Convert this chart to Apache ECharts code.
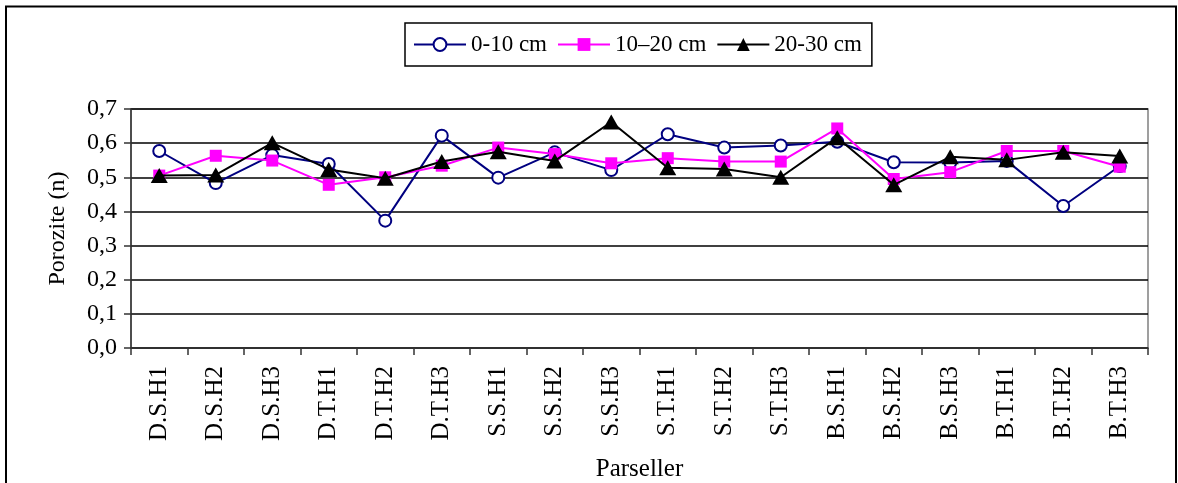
<!DOCTYPE html>
<html>
<head>
<meta charset="utf-8">
<script src="https://cdn.jsdelivr.net/npm/echarts@6/dist/echarts.min.js"></script>
<style>
  html, body { margin: 0; padding: 0; background: #fff; }
  #chart { width: 1178px; height: 483px; }
</style>
</head>
<body>
<div id="chart"></div>
<script>
// Parcel codes along the x axis
const parcels = ['D.S.H1', 'D.S.H2', 'D.S.H3', 'D.T.H1', 'D.T.H2', 'D.T.H3',
                 'S.S.H1', 'S.S.H2', 'S.S.H3', 'S.T.H1', 'S.T.H2', 'S.T.H3',
                 'B.S.H1', 'B.S.H2', 'B.S.H3', 'B.T.H1', 'B.T.H2', 'B.T.H3'];

// Porosity (n) by soil depth
const depth0to10 = [0.577, 0.483, 0.565, 0.539, 0.373, 0.622,
                    0.499, 0.573, 0.521, 0.626, 0.587, 0.593,
                    0.604, 0.544, 0.543, 0.548, 0.416, 0.533];
const depth10to20 = [0.505, 0.563, 0.549, 0.478, 0.500, 0.534,
                     0.587, 0.568, 0.541, 0.556, 0.546, 0.546,
                     0.643, 0.495, 0.515, 0.577, 0.577, 0.531];
const depth20to30 = [0.505, 0.507, 0.601, 0.523, 0.497, 0.546,
                     0.575, 0.548, 0.662, 0.528, 0.524, 0.500,
                     0.616, 0.478, 0.560, 0.551, 0.573, 0.562];

const seriesNames = ['0-10 cm', '10\u201320 cm', '20-30 cm'];
const yTicks = { min: 0, max: 0.7, step: 0.1 };

const FONT = '"Liberation Serif", "DejaVu Serif", serif';

const chart = echarts.init(document.getElementById('chart'), null, { renderer: 'canvas' });

chart.setOption({
  animation: false,
  backgroundColor: '#fff',
  textStyle: { fontFamily: FONT, color: '#000' },
  graphic: [{
    type: 'rect',
    shape: { x: 6, y: 6.5, width: 1170, height: 500 },
    style: { fill: 'none', stroke: '#000', lineWidth: 2 },
    silent: true
  }],
  legend: {
    left: 405,
    top: 23,
    padding: [10, 10, 10, 8],
    borderColor: '#000',
    borderWidth: 1.5,
    itemWidth: 52,
    itemHeight: 16,
    itemGap: 10,
    textStyle: { fontFamily: FONT, fontSize: 23, color: '#000' },
    data: seriesNames
  },
  grid: {
    left: 131,
    right: 30,
    top: 109,
    bottom: 135,
    outerBoundsMode: 'none',
    containLabel: false,
    show: true,
    borderColor: '#808080',
    borderWidth: 1.5
  },
  xAxis: {
    type: 'category',
    data: parcels,
    boundaryGap: true,
    name: 'Parseller',
    nameLocation: 'middle',
    nameGap: 109,
    nameTextStyle: { fontFamily: FONT, fontSize: 25, color: '#000' },
    axisLine: { lineStyle: { color: '#333', width: 1.5 } },
    axisTick: { show: true, length: 7, lineStyle: { color: '#333', width: 1.5 } },
    axisLabel: {
      rotate: 90,
      margin: 18,
      fontFamily: FONT,
      fontSize: 25,
      color: '#000'
    },
    splitLine: { show: false }
  },
  yAxis: {
    type: 'value',
    min: yTicks.min,
    max: yTicks.max,
    interval: yTicks.step,
    name: 'Porozite (n)',
    nameLocation: 'middle',
    nameGap: 61,
    nameTextStyle: { fontFamily: FONT, fontSize: 24, color: '#000' },
    axisLine: { show: true, lineStyle: { color: '#333', width: 1.5 } },
    axisTick: { show: true, length: 7, lineStyle: { color: '#333', width: 1.5 } },
    axisLabel: {
      margin: 14,
      fontFamily: FONT,
      fontSize: 24,
      color: '#000',
      formatter: v => v.toFixed(1).replace('.', ',')
    },
    splitLine: { show: true, lineStyle: { color: '#000', width: 1.5 } }
  },
  series: [
    {
      name: seriesNames[0],
      type: 'line',
      data: depth0to10,
      symbol: 'circle',
      symbolSize: 12,
      showAllSymbol: true,
      lineStyle: { color: '#000080', width: 2 },
      itemStyle: { color: '#fff', borderColor: '#000080', borderWidth: 2 },
      z: 3
    },
    {
      name: seriesNames[1],
      type: 'line',
      data: depth10to20,
      symbol: 'rect',
      symbolSize: 12,
      showAllSymbol: true,
      lineStyle: { color: '#ff00ff', width: 2 },
      itemStyle: { color: '#ff00ff', borderWidth: 0 },
      z: 4
    },
    {
      name: seriesNames[2],
      type: 'line',
      data: depth20to30,
      symbol: 'triangle',
      symbolSize: [17, 15],
      showAllSymbol: true,
      lineStyle: { color: '#000', width: 2 },
      itemStyle: { color: '#000', borderWidth: 0 },
      z: 5
    }
  ]
});
</script>
</body>
</html>
